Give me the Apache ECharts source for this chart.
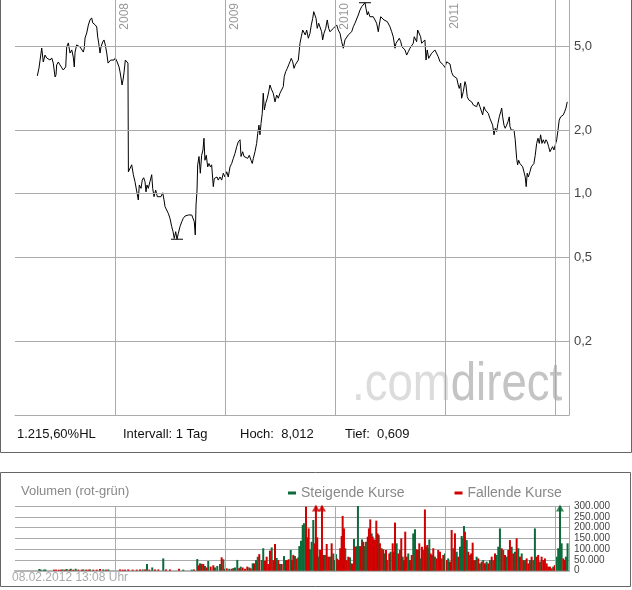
<!DOCTYPE html>
<html>
<head>
<meta charset="utf-8">
<script src="https://cdn.jsdelivr.net/npm/echarts@6/dist/echarts.min.js"></script>
<style>
html,body{margin:0;padding:0;background:#fff;}
#chart{width:632px;height:590px;}
</style>
</head>
<body>
<div id="chart"></div>
<script>
// ---- time (decimal years) and closing prices ----
const priceYears = [
2007.291,2007.306,2007.331,2007.345,2007.361,2007.376,2007.391,2007.406,2007.422,2007.436,
2007.452,2007.461,2007.467,2007.482,2007.497,2007.513,2007.527,2007.536,2007.549,2007.558,
2007.573,2007.588,2007.604,2007.618,2007.627,2007.634,2007.649,2007.664,2007.679,2007.695,
2007.709,2007.718,2007.725,2007.740,2007.755,2007.770,2007.785,2007.795,2007.806,2007.818,
2007.831,2007.840,2007.849,2007.861,2007.870,2007.885,2007.897,2007.909,2007.922,2007.934,
2007.945,2007.958,2007.976,2007.988,2008.000,2008.013,2008.025,2008.034,2008.043,2008.055,
2008.061,2008.070,2008.079,2008.091,2008.104,2008.115,2008.119,2008.134,2008.149,2008.164,
2008.179,2008.195,2008.209,2008.218,2008.234,2008.245,2008.258,2008.270,2008.279,2008.288,
2008.300,2008.315,2008.331,2008.340,2008.352,2008.367,2008.382,2008.400,2008.415,2008.431,
2008.443,2008.452,2008.467,2008.482,2008.497,2008.513,2008.525,2008.536,2008.549,2008.561,
2008.573,2008.588,2008.604,2008.618,2008.634,2008.649,2008.664,2008.679,2008.695,2008.709,
2008.718,2008.727,2008.734,2008.743,2008.749,2008.761,2008.773,2008.785,2008.797,2008.806,
2008.815,2008.827,2008.840,2008.852,2008.864,2008.876,2008.891,2008.900,2008.913,2008.925,
2008.936,2008.952,2008.967,2008.982,2008.997,2009.013,2009.027,2009.043,2009.058,2009.073,
2009.088,2009.104,2009.118,2009.134,2009.143,2009.158,2009.170,2009.188,2009.204,2009.218,
2009.234,2009.245,2009.255,2009.270,2009.285,2009.295,2009.306,2009.315,2009.325,2009.336,
2009.345,2009.355,2009.367,2009.382,2009.395,2009.406,2009.422,2009.436,2009.452,2009.467,
2009.482,2009.497,2009.513,2009.527,2009.536,2009.549,2009.564,2009.576,2009.588,2009.600,
2009.613,2009.625,2009.636,2009.649,2009.664,2009.679,2009.691,2009.704,2009.715,2009.727,
2009.740,2009.755,2009.770,2009.782,2009.795,2009.804,2009.815,2009.825,2009.836,2009.849,
2009.861,2009.876,2009.885,2009.897,2009.913,2009.927,2009.940,2009.952,2009.967,2009.982,
2009.997,2010.013,2010.027,2010.043,2010.058,2010.073,2010.088,2010.104,2010.118,2010.134,
2010.149,2010.164,2010.179,2010.195,2010.209,2010.225,2010.240,2010.255,2010.270,2010.279,
2010.291,2010.300,2010.315,2010.331,2010.345,2010.361,2010.376,2010.391,2010.400,2010.413,
2010.427,2010.443,2010.458,2010.473,2010.485,2010.497,2010.513,2010.527,2010.543,2010.552,
2010.567,2010.582,2010.595,2010.606,2010.618,2010.634,2010.649,2010.664,2010.679,2010.688,
2010.697,2010.709,2010.718,2010.731,2010.740,2010.749,2010.764,2010.776,2010.785,2010.800,
2010.815,2010.825,2010.836,2010.849,2010.861,2010.876,2010.891,2010.906,2010.922,2010.936,
2010.952,2010.967,2010.982,2010.997,2011.013,2011.027,2011.043,2011.058,2011.073,2011.088,
2011.104,2011.118,2011.127,2011.140,2011.149,2011.164,2011.179,2011.188,2011.200,2011.213,
2011.225,2011.240,2011.255,2011.270,2011.285,2011.300,2011.315,2011.331,2011.340,2011.352,
2011.364,2011.376,2011.391,2011.406,2011.422,2011.431,2011.443,2011.455,2011.467,2011.479,
2011.491,2011.504,2011.513,2011.522,2011.534,2011.545,2011.558,2011.570,2011.582,2011.588,
2011.600,2011.613,2011.625,2011.636,2011.649,2011.658,2011.667,2011.679,2011.691,2011.704,
2011.715,2011.727,2011.736,2011.745,2011.755,2011.770,2011.782,2011.795,2011.806,2011.818,
2011.831,2011.843,2011.855,2011.867,2011.879,2011.891,2011.904,2011.915,2011.927,2011.940,
2011.952,2011.964,2011.976,2011.988,2012.000,2012.013,2012.025,2012.036,2012.049,2012.061,
2012.073,2012.085,2012.097,2012.109
];
const prices = [
3.61,3.93,4.89,4.20,4.53,4.39,4.43,4.29,4.39,4.15,
3.57,3.65,4.07,4.20,4.07,4.05,3.85,3.77,3.98,4.95,
5.17,4.63,4.79,4.43,3.98,4.68,5.06,5.17,4.95,4.89,
4.68,4.89,5.46,5.76,6.29,6.64,6.79,6.43,6.40,6.29,
6.15,5.52,5.17,4.63,4.95,5.22,5.34,5.06,4.63,4.15,
4.07,4.29,4.25,4.29,4.39,4.25,4.34,3.98,3.77,3.45,
3.27,3.45,3.73,4.29,4.20,4.15,1.27,1.27,1.37,1.23,
1.14,1.16,0.934,1.10,1.06,1.16,1.19,1.14,1.02,1.10,
1.06,1.14,1.23,1.06,0.968,1.04,0.968,0.986,0.968,1.01,
0.934,0.868,0.853,0.807,0.765,0.698,0.661,0.615,0.661,0.609,
0.649,0.698,0.737,0.765,0.784,0.778,0.793,0.808,0.793,0.808,
0.737,0.638,0.884,1.04,1.37,1.50,1.25,1.52,1.61,1.83,
1.44,1.52,1.34,1.39,1.34,1.37,1.08,1.18,1.16,1.20,
1.16,1.20,1.16,1.25,1.20,1.27,1.20,1.34,1.39,1.47,
1.55,1.67,1.76,1.80,1.50,1.58,1.50,1.52,1.47,1.52,
1.44,1.39,1.47,1.58,1.73,1.93,2.11,1.90,2.15,2.40,
2.99,2.49,2.68,2.83,3.04,3.27,3.10,2.99,2.72,2.93,
2.83,2.99,2.93,3.21,3.58,3.78,3.92,4.07,4.21,4.37,
4.21,3.92,4.07,4.14,4.29,5.15,5.53,5.95,5.84,5.64,
5.95,5.44,5.74,6.29,6.76,7.27,7.25,6.76,6.06,6.41,
6.29,5.84,5.34,5.74,6.06,6.64,6.06,5.84,5.95,6.06,
6.17,6.29,5.95,5.74,5.24,4.88,5.34,5.44,5.64,5.74,
5.84,6.17,6.41,6.52,7.01,7.40,7.67,7.82,8.012,7.54,
7.01,7.27,6.88,7.01,6.88,6.64,6.41,5.84,6.29,6.88,
6.76,6.64,6.76,6.52,6.41,6.17,5.84,5.53,4.88,5.15,
5.24,5.44,5.24,4.96,4.96,4.79,4.53,4.70,4.88,4.96,
4.79,5.15,5.53,5.64,5.24,5.95,5.84,5.53,5.15,5.24,
5.34,4.29,4.79,4.37,4.45,4.62,4.53,4.79,4.70,4.45,
4.21,4.14,4.07,3.96,4.21,4.29,4.11,3.75,3.61,3.58,
3.52,3.27,3.15,3.33,2.83,3.04,3.39,3.27,2.88,2.78,
2.83,2.72,2.63,2.68,2.58,2.72,2.58,2.54,2.36,2.58,
2.49,2.44,2.40,2.27,2.23,2.11,1.90,2.04,1.97,2.15,
2.31,2.44,2.54,2.31,2.11,2.04,2.11,2.19,2.31,2.08,
2.00,2.04,2.00,1.80,1.47,1.37,1.44,1.39,1.42,1.34,
1.32,1.20,1.08,1.25,1.20,1.27,1.34,1.34,1.39,1.52,
1.73,1.83,1.73,1.90,1.73,1.80,1.73,1.80,1.76,1.67,
1.58,1.61,1.67,1.61,1.64,1.80,2.00,2.23,2.31,2.27,
2.36,2.44,2.54,2.72
];

// ---- volume: [decimal year, shares] for rising and falling days ----
const volRising = [
[2007.309,8000],[2007.322,5000],[2007.349,5000],[2007.364,6000],[2007.522,6000],[2007.558,8000],
[2007.595,9000],[2007.640,9000],[2007.709,6000],[2007.770,6000],[2007.891,6000],[2007.936,6000],
[2008.249,6000],[2008.288,31000],[2008.336,15000],[2008.436,57000],[2008.618,5000],[2008.695,5000],
[2008.745,54000],[2008.770,34000],[2008.815,22000],[2008.845,45000],[2008.906,15000],[2008.927,22000],
[2008.952,31000],[2008.982,53000],[2008.997,9000],[2009.036,9000],[2009.073,12000],[2009.088,15000],
[2009.109,50000],[2009.140,19000],[2009.218,15000],[2009.249,34000],[2009.279,49000],[2009.295,65000],
[2009.331,49000],[2009.345,104000],[2009.422,108000],[2009.467,59000],[2009.497,31000],[2009.534,68000],
[2009.564,49000],[2009.595,96000],[2009.634,68000],[2009.664,62000],[2009.673,114000],[2009.688,139000],
[2009.704,212000],[2009.715,220000],[2009.770,99000],[2009.785,134000],[2009.800,235000],[2009.849,65000],
[2009.858,96000],[2009.906,73000],[2009.952,65000],[2009.982,80000],[2009.997,49000],[2010.006,77000],
[2010.091,104000],[2010.134,62000],[2010.170,147000],[2010.195,114000],[2010.206,300000],[2010.218,114000],
[2010.243,145000],[2010.270,114000],[2010.279,134000],[2010.331,173000],[2010.361,142000],[2010.395,165000],
[2010.422,104000],[2010.452,80000],[2010.473,49000],[2010.504,88000],[2010.558,127000],[2010.588,96000],
[2010.613,65000],[2010.664,80000],[2010.709,173000],[2010.725,192000],[2010.752,96000],[2010.776,57000],
[2010.800,96000],[2010.824,111000],[2010.845,104000],[2010.855,145000],[2010.879,73000],[2010.906,65000],
[2010.967,57000],[2010.997,80000],[2011.027,57000],[2011.073,104000],[2011.104,88000],[2011.134,111000],
[2011.149,161000],[2011.158,150000],[2011.170,207000],[2011.195,142000],[2011.225,73000],[2011.261,49000],
[2011.285,65000],[2011.315,34000],[2011.345,49000],[2011.376,42000],[2011.406,49000],[2011.436,49000],
[2011.467,73000],[2011.482,111000],[2011.497,196000],[2011.527,96000],[2011.558,65000],[2011.604,111000],
[2011.634,88000],[2011.664,104000],[2011.695,80000],[2011.725,49000],[2011.770,49000],[2011.800,49000],
[2011.815,196000],[2011.861,42000],[2011.982,19000],[2012.013,65000],[2012.027,104000],[2012.043,420000],
[2012.058,127000],[2012.097,65000],[2012.112,127000]
];
const volFalling = [
[2007.443,5000],[2007.461,5000],[2007.485,5000],[2007.506,5000],[2007.543,5000],[2007.582,5000],
[2007.618,5000],[2007.664,5000],[2007.695,5000],[2007.734,5000],[2007.755,5000],[2007.800,5000],
[2007.831,5000],[2007.861,8000],[2007.915,5000],[2008.043,6000],[2008.067,5000],[2008.088,5000],
[2008.118,6000],[2008.158,5000],[2008.195,5000],[2008.225,6000],[2008.270,6000],[2008.309,5000],
[2008.361,6000],[2008.391,6000],[2008.461,6000],[2008.497,6000],[2008.579,9000],[2008.715,6000],
[2008.758,25000],[2008.785,32000],[2008.800,31000],[2008.831,15000],[2008.867,19000],[2008.891,25000],
[2008.967,62000],[2009.013,11000],[2009.058,9000],[2009.127,12000],[2009.158,15000],[2009.179,9000],
[2009.200,19000],[2009.231,11000],[2009.261,34000],[2009.309,77000],[2009.361,46000],[2009.376,65000],
[2009.391,31000],[2009.406,93000],[2009.436,49000],[2009.452,124000],[2009.482,49000],[2009.513,31000],
[2009.552,49000],[2009.576,53000],[2009.606,49000],[2009.618,73000],[2009.649,56000],[2009.734,297000],
[2009.745,155000],[2009.758,196000],[2009.815,127000],[2009.824,420000],[2009.836,155000],[2009.867,96000],
[2009.879,420000],[2009.891,73000],[2009.922,124000],[2009.936,65000],[2009.967,127000],[2010.018,56000],
[2010.034,49000],[2010.045,104000],[2010.058,161000],[2010.067,254000],[2010.079,196000],[2010.104,49000],
[2010.118,65000],[2010.149,34000],[2010.158,31000],[2010.179,111000],[2010.231,114000],[2010.255,134000],
[2010.295,158000],[2010.306,196000],[2010.318,238000],[2010.340,158000],[2010.352,145000],[2010.373,232000],
[2010.385,173000],[2010.406,127000],[2010.436,99000],[2010.461,96000],[2010.491,80000],[2010.522,127000],
[2010.534,88000],[2010.543,223000],[2010.573,80000],[2010.600,150000],[2010.625,49000],[2010.636,181000],
[2010.649,65000],[2010.679,49000],[2010.695,73000],[2010.740,99000],[2010.764,127000],[2010.788,111000],
[2010.815,284000],[2010.836,119000],[2010.867,80000],[2010.891,104000],[2010.922,57000],[2010.936,96000],
[2010.952,88000],[2010.982,73000],[2011.013,49000],[2011.043,42000],[2011.058,189000],[2011.088,173000],
[2011.118,65000],[2011.179,181000],[2011.209,88000],[2011.236,80000],[2011.249,130000],[2011.273,49000],
[2011.300,57000],[2011.331,42000],[2011.361,34000],[2011.391,34000],[2011.422,65000],[2011.452,80000],
[2011.513,104000],[2011.543,73000],[2011.573,96000],[2011.588,142000],[2011.618,80000],[2011.649,150000],
[2011.679,65000],[2011.709,49000],[2011.740,57000],[2011.755,34000],[2011.785,65000],[2011.831,65000],
[2011.845,73000],[2011.876,65000],[2011.891,49000],[2011.906,57000],[2011.922,34000],[2011.936,19000],
[2011.952,19000],[2011.967,11000],[2011.997,26000],[2012.073,57000],[2012.088,49000]
];

// ---- tick values ----
const priceTicks = [5, 2, 1, 0.5, 0.2];
const yearTicks = [2008, 2009, 2010, 2011, 2012];
const yearLabels = ['2008', '2009', '2010', '2011', ''];
const volTickStep = 50000;
const volMax = 300000;

const FONT = 'Liberation Sans, Arial, sans-serif';
const GREEN = '#0b6b3a', RED = '#d00000', GRID = '#aaaaaa';

function de(n, d) {
  const s = n.toFixed(d);
  const parts = s.split('.');
  const ip = parts[0].replace(/\B(?=(\d{3})+(?!\d))/g, '.');
  return parts[1] ? ip + ',' + parts[1] : ip;
}

const priceData = priceYears.map((y, i) => [y, prices[i]]);
const hi = Math.max(...prices), lo = Math.min(...prices);
const hlPct = (hi / lo - 1) * 100;

const xMin = 2007.088, xMax = 2012.125;

const chart = echarts.init(document.getElementById('chart'), null, {renderer: 'canvas'});
const option = {
  animation: false,
  backgroundColor: '#ffffff',
  textStyle: {fontFamily: FONT},
  grid: [
    {left: 15, top: 0, width: 554, height: 415},
    {left: 15, top: 506, width: 554, height: 64.7}
  ],
  xAxis: [
    {type: 'value', gridIndex: 0, min: xMin, max: xMax,
     axisLine: {show: true, onZero: false, lineStyle: {color: GRID}},
     axisTick: {show: false}, axisLabel: {show: false}, splitLine: {show: false}},
    {type: 'value', gridIndex: 1, min: xMin, max: xMax,
     axisLine: {show: true, onZero: false, lineStyle: {color: '#b4b4b4', width: 2}},
     axisTick: {show: false}, axisLabel: {show: false}, splitLine: {show: false}}
  ],
  yAxis: [
    {type: 'log', logBase: 10, gridIndex: 0, position: 'right', min: 0.0897, max: 8.254,
     axisLine: {show: true, lineStyle: {color: GRID}},
     axisTick: {show: false}, axisLabel: {show: false}, splitLine: {show: false}},
    {type: 'value', gridIndex: 1, position: 'right', min: 0, max: volMax, interval: volTickStep,
     axisLine: {show: true, lineStyle: {color: GRID}},
     axisTick: {show: false},
     axisLabel: {fontSize: 10, color: '#444', margin: 5, fontFamily: FONT, formatter: v => de(v, 0)},
     splitLine: {show: true, lineStyle: {color: GRID, width: 1}}}
  ],
  legend: {
    data: ['Steigende Kurse', 'Fallende Kurse'],
    left: 283, top: 481, icon: 'rect', itemWidth: 8, itemHeight: 3, itemGap: 50,
    selectedMode: false,
    textStyle: {color: '#888', fontSize: 14, fontFamily: FONT}
  },
  series: [
    { // grid lines of the price panel
      type: 'line', xAxisIndex: 0, yAxisIndex: 0, data: priceData, z: 1, silent: true,
      symbol: 'none', lineStyle: {opacity: 0},
      markLine: {
        silent: true, symbol: ['none', 'none'], animation: false,
        lineStyle: {color: GRID, type: 'solid', width: 1},
        data: [
          ...priceTicks.map(v => ({yAxis: v, label: {show: true, position: 'end', distance: 5,
              formatter: de(v, 1), color: '#444', fontSize: 13, fontFamily: FONT}})),
          ...yearTicks.map((y, i) => ({xAxis: y, label: {show: yearLabels[i] !== '', position: 'insideEndBottom', distance: 3,
              formatter: yearLabels[i], color: '#999', fontSize: 12, fontFamily: FONT}}))
        ]
      }
    },
    {
      name: 'Kurs', type: 'line', xAxisIndex: 0, yAxisIndex: 0, data: priceData, z: 3,
      symbol: 'none', lineStyle: {color: '#000', width: 1},
      markPoint: {
        symbol: 'rect', symbolSize: [12, 1], itemStyle: {color: '#000'},
        label: {show: false}, silent: true,
        data: [{type: 'max'}, {type: 'min'}]
      }
    },
    { // vertical year lines of the volume panel
      type: 'line', xAxisIndex: 1, yAxisIndex: 1, data: volRising, z: 0, silent: true,
      symbol: 'none', lineStyle: {opacity: 0},
      markLine: {
        silent: true, symbol: ['none', 'none'], label: {show: false},
        lineStyle: {color: GRID, type: 'solid', width: 1},
        data: yearTicks.map(y => ({xAxis: y}))
      }
    },
    {
      name: 'Steigende Kurse', type: 'bar', xAxisIndex: 1, yAxisIndex: 1, data: volRising,
      barWidth: 2, barGap: '-100%', itemStyle: {color: GREEN}, clip: true, z: 2
    },
    {
      name: 'Fallende Kurse', type: 'bar', xAxisIndex: 1, yAxisIndex: 1, data: volFalling,
      barWidth: 2, barGap: '-100%', itemStyle: {color: RED}, clip: true, z: 2
    },
    {
      type: 'scatter', xAxisIndex: 1, yAxisIndex: 1, z: 4,
      data: volRising.filter(d => d[1] > volMax).map(d => [d[0], volMax]),
      symbol: 'triangle', symbolSize: [8, 7], symbolOffset: [0, 2], itemStyle: {color: GREEN}, silent: true
    },
    {
      type: 'scatter', xAxisIndex: 1, yAxisIndex: 1, z: 4,
      data: volFalling.filter(d => d[1] > volMax).map(d => [d[0], volMax]),
      symbol: 'triangle', symbolSize: [8, 7], symbolOffset: [0, 2], itemStyle: {color: RED}, silent: true
    }
  ],
  graphic: [
    {type: 'polyline', shape: {points: [[0.5, 0], [0.5, 452.5], [631.5, 452.5], [631.5, 0]]},
     style: {stroke: '#666', fill: null, lineWidth: 1}, silent: true},
    {type: 'rect', shape: {x: 0.5, y: 472.5, width: 630, height: 114},
     style: {stroke: '#666', fill: null, lineWidth: 1}, silent: true},
    {type: 'text', x: 352, y: 359, scaleX: 0.86, z: 0, silent: true,
     style: {text: '{a|.com}{b|direct}', font: '53px ' + FONT,
       rich: {a: {fill: '#dcdcdc', fontSize: 53, fontFamily: FONT}, b: {fill: '#c4c4c4', fontSize: 53, fontFamily: FONT}}}},
    {type: 'text', x: 17, y: 434, silent: true,
     style: {text: de(hlPct, 2) + '%HL', fill: '#111', font: '13px ' + FONT, textVerticalAlign: 'middle'}},
    {type: 'text', x: 123, y: 434, silent: true,
     style: {text: 'Intervall: 1 Tag', fill: '#111', font: '13px ' + FONT, textVerticalAlign: 'middle'}},
    {type: 'text', x: 240, y: 434, silent: true,
     style: {text: 'Hoch:  ' + de(hi, 3), fill: '#111', font: '13px ' + FONT, textVerticalAlign: 'middle'}},
    {type: 'text', x: 345, y: 434, silent: true,
     style: {text: 'Tief:  ' + de(lo, 3), fill: '#111', font: '13px ' + FONT, textVerticalAlign: 'middle'}},
    {type: 'text', x: 21, y: 491, silent: true,
     style: {text: 'Volumen (rot-grün)', fill: '#888', font: '13px ' + FONT, textVerticalAlign: 'middle'}},
    {type: 'text', x: 12, y: 578, silent: true,
     style: {text: '08.02.2012 13:08 Uhr', fill: '#aaa', font: '12px ' + FONT, textVerticalAlign: 'middle'}}
  ]
};
chart.setOption(option);
</script>
</body>
</html>
